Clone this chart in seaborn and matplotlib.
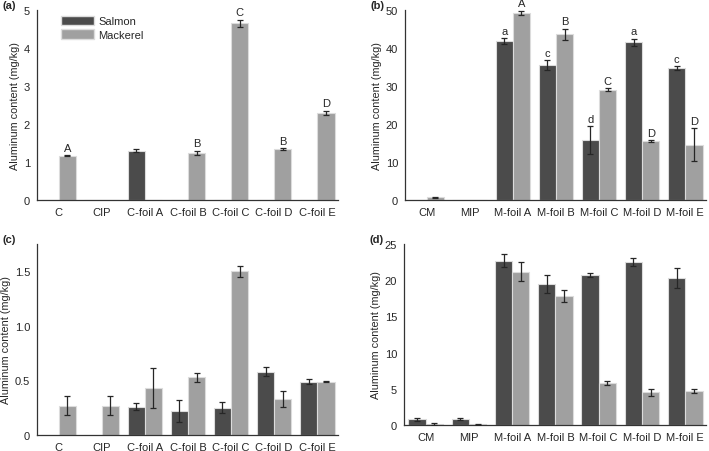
import matplotlib
matplotlib.use("Agg")
import matplotlib.pyplot as plt
import seaborn as sns
import pandas as pd
import numpy as np
from matplotlib.ticker import MultipleLocator, FixedLocator, FuncFormatter
from matplotlib.patches import Patch

# ---- data ----
cats_c = ['C', 'CIP', 'C-foil A', 'C-foil B', 'C-foil C', 'C-foil D', 'C-foil E']
cats_m = ['CM', 'MIP', 'M-foil A', 'M-foil B', 'M-foil C', 'M-foil D', 'M-foil E']
fish = ['Salmon', 'Mackerel']

# (a) (nan = no bar)
a_salmon = [np.nan, np.nan, 1.30, np.nan, np.nan, np.nan, np.nan]
a_salmon_sd = [np.nan, np.nan, 0.03, np.nan, np.nan, np.nan, np.nan]
a_mackerel = [1.17, np.nan, np.nan, 1.24, 4.65, 1.34, 2.30]
a_mackerel_sd = [0.02, np.nan, np.nan, 0.06, 0.10, 0.03, 0.05]
a_letters_salmon = ['', '', '', '', '', '', '']
a_letters_mackerel = ['A', '', '', 'B', 'C', 'B', 'D']

# (b)
b_salmon = [np.nan, np.nan, 41.8, 35.6, 15.8, 41.5, 34.8]
b_salmon_sd = [np.nan, np.nan, 0.8, 1.3, 3.6, 1.0, 0.5]
b_mackerel = [0.7, np.nan, 49.3, 43.6, 29.0, 15.5, 14.6]
b_mackerel_sd = [0.1, np.nan, 0.5, 1.5, 0.4, 0.2, 4.4]
b_letters_salmon = ['', '', 'a', 'c', 'd', 'a', 'c']
b_letters_mackerel = ['', '', 'A', 'B', 'C', 'D', 'D']

# (c)
c_salmon = [np.nan, np.nan, 0.26, 0.22, 0.25, 0.58, 0.49]
c_salmon_sd = [np.nan, np.nan, 0.03, 0.10, 0.05, 0.04, 0.02]
c_mackerel = [0.27, 0.27, 0.43, 0.53, 1.50, 0.33, 0.49]
c_mackerel_sd = [0.09, 0.09, 0.18, 0.04, 0.05, 0.07, 0.005]

# (d)
d_salmon = [0.8, 0.8, 22.7, 19.5, 20.7, 22.5, 20.3]
d_salmon_sd = [0.2, 0.1, 0.9, 1.2, 0.3, 0.5, 1.4]
d_mackerel = [0.15, 0.1, 21.2, 17.8, 5.8, 4.5, 4.7]
d_mackerel_sd = [0.15, 0.05, 1.3, 0.8, 0.3, 0.5, 0.3]

COLORS = {'Salmon': '#4b4b4b', 'Mackerel': '#a0a0a0'}
FONT = ['Liberation Sans', 'DejaVu Sans']


def make_df(cats, sal, sal_sd, mac, mac_sd, let_s=None, let_m=None):
    n = len(cats)
    let_s = let_s or [''] * n
    let_m = let_m or [''] * n
    df = pd.DataFrame({
        'Sample': cats * 2,
        'Fish': ['Salmon'] * n + ['Mackerel'] * n,
        'Al': list(sal) + list(mac),
        'SD': list(sal_sd) + list(mac_sd),
        'Letter': list(let_s) + list(let_m),
    })
    # missing bars are drawn with zero height so the dodge slots stay put
    df['Al'] = df['Al'].fillna(0)
    return df


def draw_panel(ax, df, cats, ymax, major, minor, tag, legend=False):
    sns.barplot(data=df, x='Sample', y='Al', hue='Fish', order=cats,
                hue_order=fish, palette=COLORS, errorbar=None, width=0.8,
                edgecolor='#dcdcdc', linewidth=0.8, legend=False, ax=ax)
    # error bars + letters, located from the drawn bars
    for level, cont in zip(fish, ax.containers):
        for bar in cont:
            h = bar.get_height()
            cx = bar.get_x() + bar.get_width() / 2
            sample = cats[int(round(cx))]
            row = df[(df['Sample'] == sample) & (df['Fish'] == level)].iloc[0]
            if not np.isfinite(row['SD']):
                continue
            ax.errorbar(cx, h, yerr=row['SD'], fmt='none', ecolor='#262626',
                        elinewidth=0.9, capsize=2.2, capthick=0.9, zorder=3)
            if row['Letter']:
                ax.text(cx, h + row['SD'] + ymax * 0.012, row['Letter'],
                        ha='center', va='bottom', fontsize=8, family=FONT)
    ax.set_xlim(-0.5, 6.48)
    ax.set_ylim(0, ymax)
    ax.yaxis.set_major_locator(MultipleLocator(major))
    ax.yaxis.set_minor_locator(MultipleLocator(minor))
    ax.xaxis.set_minor_locator(FixedLocator(np.arange(-0.5, 7, 1.0)))
    ax.set_xlabel('')
    ax.set_ylabel('Aluminum content (mg/kg)', fontsize=7.8, family=FONT,
                  labelpad=3)
    for side in ['top', 'right']:
        ax.spines[side].set_visible(False)
    for side in ['left', 'bottom']:
        ax.spines[side].set_color('#333333')
        ax.spines[side].set_linewidth(0.9)
    ax.tick_params(axis='both', which='major', direction='out', length=3,
                   width=0.8, color='#333333', labelsize=8, pad=2)
    ax.tick_params(axis='both', which='minor', direction='out', length=2,
                   width=0.7, color='#333333')
    for lab in ax.get_xticklabels() + ax.get_yticklabels():
        lab.set_family(FONT)
    ax.set_facecolor('white')
    ax.text(-0.115, 1.0, tag, transform=ax.transAxes, fontsize=8,
            fontweight='bold', family=FONT, ha='left', va='bottom')
    if legend:
        handles = [Patch(facecolor=COLORS[f], edgecolor='#dcdcdc', label=f)
                   for f in fish]
        ax.legend(handles=handles, loc='upper left', bbox_to_anchor=(0.06, 1.0),
                  frameon=False, prop={'family': FONT, 'size': 8},
                  handlelength=3.0, handleheight=0.9, handletextpad=0.4,
                  labelspacing=0.3, borderaxespad=0.1)


sns.set_style('white')
plt.rcParams['font.family'] = FONT

W, H = 709, 452
fig = plt.figure(figsize=(W / 100, H / 100), dpi=100)


def px_axes(left, top, right, bottom):
    return fig.add_axes([left / W, 1 - bottom / H, (right - left) / W,
                         (bottom - top) / H])


ax_a = px_axes(37, 11, 338, 201)
ax_b = px_axes(405, 11, 706, 201)
ax_c = px_axes(37, 245, 338, 436)
ax_d = px_axes(404, 245, 706, 426)

df_a = make_df(cats_c, a_salmon, a_salmon_sd, a_mackerel, a_mackerel_sd,
               a_letters_salmon, a_letters_mackerel)
df_b = make_df(cats_m, b_salmon, b_salmon_sd, b_mackerel, b_mackerel_sd,
               b_letters_salmon, b_letters_mackerel)
df_c = make_df(cats_c, c_salmon, c_salmon_sd, c_mackerel, c_mackerel_sd)
df_d = make_df(cats_m, d_salmon, d_salmon_sd, d_mackerel, d_mackerel_sd)

draw_panel(ax_a, df_a, cats_c, 5, 1, 0.5, '(a)', legend=True)
draw_panel(ax_b, df_b, cats_m, 50, 10, 5, '(b)')
draw_panel(ax_c, df_c, cats_c, 1.75, 0.5, 0.25, '(c)')
draw_panel(ax_d, df_d, cats_m, 25, 5, 2.5, '(d)')

ax_c.yaxis.set_major_formatter(FuncFormatter(
    lambda v, p: '0' if v == 0 else f'{v:.1f}'))

fig.savefig('out.png', dpi=100, facecolor='white')
